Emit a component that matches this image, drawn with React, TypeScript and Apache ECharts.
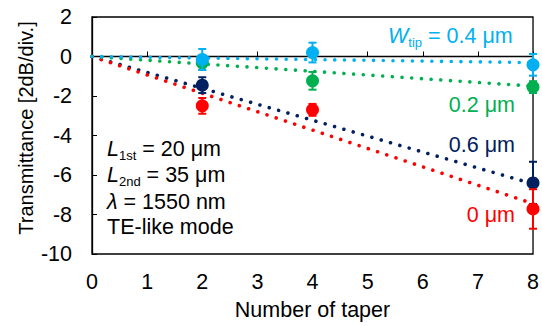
import React, { useEffect, useRef } from "react";
import * as echarts from "echarts";

const xTicks = [0, 1, 2, 3, 4, 5, 6, 7, 8];
const yTicks = [2, 0, -2, -4, -6, -8, -10];
const tapers = [2, 4, 8];

// Transmittance [dB] at each taper count (null = no measurement)
const t06 = [-1.45, null, -6.4];
const e06 = [0.4, null, 1.07];
const t00 = [-2.5, -2.7, -7.72];
const e00 = [0.4, 0.3, 1.0];
const t02 = [-0.32, -1.23, -1.55];
const e02 = [0.35, 0.45, 0.3];
const t04 = [-0.15, 0.2, -0.42];
const e04 = [0.53, 0.5, 0.55];

// linear fit (through origin) value at 8 tapers
const fitEnd06 = -6.45;
const fitEnd00 = -7.45;
const fitEnd02 = -1.5;
const fitEnd04 = -0.31;

const labels = ["0.6 μm", "0 μm", "0.2 μm", "0.4 μm"];
const colors = ["#002060", "#FF0000", "#00B050", "#00B0F0"];

const FONT = "'Liberation Sans', Arial, sans-serif";
const FS = 21.5;

function points(vals: (number | null)[], errs: (number | null)[]) {
  const out: number[][] = [];
  vals.forEach((v, i) => {
    if (v !== null) out.push([tapers[i], v, errs[i] as number]);
  });
  return out;
}

export default function App() {
  const ref = useRef<HTMLDivElement>(null);
  useEffect(() => {
    if (!ref.current) return;
    document.body.style.margin = "0";
    const chart = echarts.init(ref.current, null, { renderer: "svg" });
    const groups = [
      { vals: t06, errs: e06, end: fitEnd06 },
      { vals: t00, errs: e00, end: fitEnd00 },
      { vals: t02, errs: e02, end: fitEnd02 },
      { vals: t04, errs: e04, end: fitEnd04 },
    ];
    const series: any[] = [];
    groups.forEach((g, i) => {
      series.push({
        type: "line",
        name: labels[i] + " fit",
        data: [
          [0, 0],
          [8, g.end],
        ],
        symbol: "none",
        z: 1,
        lineStyle: { color: colors[i], width: 3.6, type: [0.01, 9.7], cap: "round" },
      });
    });
    groups.forEach((g, i) => {
      const pts = points(g.vals, g.errs);
      series.push({
        type: "custom",
        name: labels[i] + " err",
        data: pts,
        z: 3 + i,
        clip: false,
        renderItem: (params: any, api: any) => {
          const x = api.value(0);
          const y = api.value(1);
          const e = api.value(2);
          const top = api.coord([x, y + e]);
          const bot = api.coord([x, y - e]);
          const st = { stroke: colors[i], lineWidth: 2 };
          return {
            type: "group",
            children: [
              { type: "line", shape: { x1: top[0], y1: top[1], x2: bot[0], y2: bot[1] }, style: st },
              { type: "line", shape: { x1: top[0] - 4, y1: top[1], x2: top[0] + 4, y2: top[1] }, style: st },
              { type: "line", shape: { x1: bot[0] - 4, y1: bot[1], x2: bot[0] + 4, y2: bot[1] }, style: st },
            ],
          };
        },
      });
      series.push({
        type: "scatter",
        name: labels[i],
        data: pts.map((p) => [p[0], p[1]]),
        symbol: "circle",
        symbolSize: 13,
        z: 3 + i,
        clip: false,
        itemStyle: { color: colors[i], opacity: 1 },
      });
    });

    const txt = (x: number, y: number, text: string, color: string, align: string, rich?: any, fs = FS, rotation = 0) => ({
      type: "text",
      x,
      y,
      z: 100,
      rotation,
      style: {
        text,
        fill: color,
        font: `${fs}px ${FONT}`,
        fontSize: fs,
        fontFamily: FONT,
        align,
        verticalAlign: "middle",
        rich,
      },
    });
    const richBase = (color: string) => ({
      i: { fontStyle: "italic", fontSize: FS, fontFamily: FONT, fill: color, color, lineHeight: 26 },
      s: { fontSize: 13, fontFamily: FONT, fill: color, color, verticalAlign: "bottom", lineHeight: 26, padding: [7, 0, 0, 0] },
      n: { fontSize: FS, fontFamily: FONT, fill: color, color, lineHeight: 26 },
    });

    chart.setOption({
      animation: false,
      textStyle: { fontFamily: FONT },
      grid: {
        left: 92,
        right: 8,
        top: 17,
        bottom: 72,
        show: true,
        borderColor: "#000",
        borderWidth: 1.3,
        backgroundColor: "transparent",
      },
      xAxis: {
        type: "value",
        min: xTicks[0],
        max: xTicks[xTicks.length - 1],
        interval: 1,
        name: "Number of taper",
        nameLocation: "middle",
        nameGap: 45,
        nameTextStyle: { fontSize: FS, color: "#000", fontFamily: FONT },
        axisLine: { lineStyle: { color: "#000", width: 1.3 } },
        axisTick: { inside: true, length: 5, lineStyle: { color: "#000", width: 1 } },
        axisLabel: { fontSize: FS, color: "#000", margin: 17, fontFamily: FONT },
        splitLine: { show: false },
      },
      yAxis: {
        type: "value",
        min: yTicks[yTicks.length - 1],
        max: yTicks[0],
        interval: 2,
        axisLine: { lineStyle: { color: "#000", width: 1.3 } },
        axisTick: { inside: true, length: 5, lineStyle: { color: "#000", width: 1 } },
        axisLabel: { fontSize: FS, color: "#000", margin: 20, fontFamily: FONT },
        splitLine: { show: false },
      },
      graphic: [
        txt(26, 128, "Transmittance [2dB/div.]", "#000", "center", undefined, 20, Math.PI / 2),
        txt(388, 36, "{i|W}{s|tip}{n| = 0.4 μm}", colors[3], "left", richBase(colors[3])),
        txt(515, 105, "0.2 μm", colors[2], "right"),
        txt(515, 145, "0.6 μm", colors[0], "right"),
        txt(515, 215, "0 μm", colors[1], "right"),
        txt(107, 149, "{i|L}{s|1st}{n| = 20 μm}", "#000", "left", richBase("#000")),
        txt(107, 175, "{i|L}{s|2nd}{n| = 35 μm}", "#000", "left", richBase("#000")),
        txt(107, 202, "{i|λ}{n| = 1550 nm}", "#000", "left", richBase("#000")),
        txt(107, 227, "TE-like mode", "#000", "left"),
      ],
      series,
    });
    return () => chart.dispose();
  }, []);
  return <div ref={ref} style={{ width: 542, height: 326 }} />;
}
